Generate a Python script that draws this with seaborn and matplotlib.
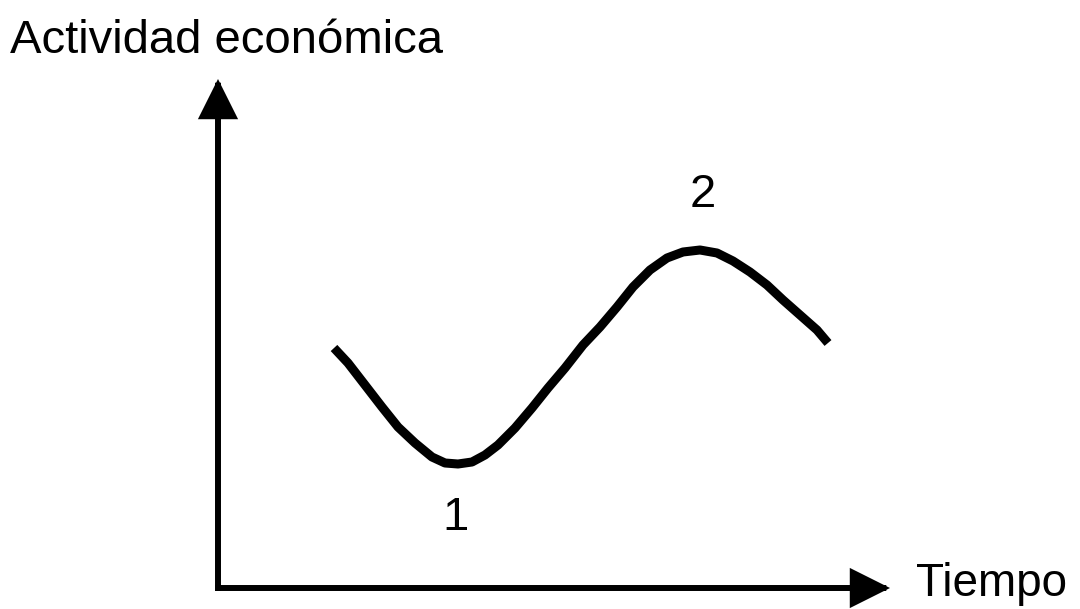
import matplotlib
matplotlib.use('Agg')
import matplotlib.pyplot as plt
import seaborn as sns
import pandas as pd

# Curva del ciclo económico (unidades del esquema, origen en la esquina de los ejes)
tiempo = [1.16, 1.30, 1.47, 1.64, 1.80, 1.97, 2.14, 2.27, 2.40, 2.54, 2.67, 2.80,
          2.97, 3.14, 3.30, 3.47, 3.65, 3.82, 3.99, 4.15, 4.32, 4.49, 4.65, 4.82,
          4.99, 5.15, 5.32, 5.49, 5.65, 5.82, 5.99, 6.10]
actividad = [2.40, 2.25, 2.03, 1.81, 1.61, 1.45, 1.31, 1.25, 1.24, 1.26, 1.33, 1.43,
             1.60, 1.80, 2.00, 2.20, 2.43, 2.61, 2.81, 3.01, 3.18, 3.30, 3.36, 3.38,
             3.35, 3.27, 3.16, 3.03, 2.88, 2.73, 2.58, 2.45]

# Etiquetas de los puntos 1 (valle) y 2 (pico)
etiquetas = ['1', '2']
etiquetas_x = [2.37, 4.85]
etiquetas_y = [0.70, 3.93]

df = pd.DataFrame({'Tiempo': tiempo, 'Actividad': actividad})

sns.set_theme(style='white')
plt.rcParams['font.family'] = ['Liberation Sans', 'DejaVu Sans']

fig = plt.figure(figsize=(10.8, 6.09), dpi=100)
ax = fig.add_axes([0, 0, 1, 1])

sns.lineplot(data=df, x='Tiempo', y='Actividad', sort=False, color='black',
             linewidth=6.5, ax=ax, solid_capstyle='butt', solid_joinstyle='round')

# Ejes con flechas
flecha = dict(arrowstyle='-|>,head_length=1.1,head_width=0.55', lw=4.3,
              color='black', mutation_scale=20, shrinkA=0, shrinkB=0,
              joinstyle='miter', capstyle='projecting')
ax.annotate('', xy=(0, 5.09), xytext=(0, 0), arrowprops=flecha)
ax.annotate('', xy=(6.72, 0), xytext=(0, 0), arrowprops=flecha)

ax.text(-2.08, 5.47, 'Actividad económica', fontsize=34, color='black',
        ha='left', va='center')
ax.text(6.98, 0.04, 'Tiempo', fontsize=33, color='black', ha='left', va='center')
for t, x, y in zip(etiquetas, etiquetas_x, etiquetas_y):
    ax.text(x, y, t, fontsize=34, color='black', ha='center', va='center')

ax.set_xlim(-2.18, 8.62)
ax.set_ylim(-0.21, 5.88)
ax.set_axis_off()

fig.savefig('out.png', dpi=100, facecolor='white')
